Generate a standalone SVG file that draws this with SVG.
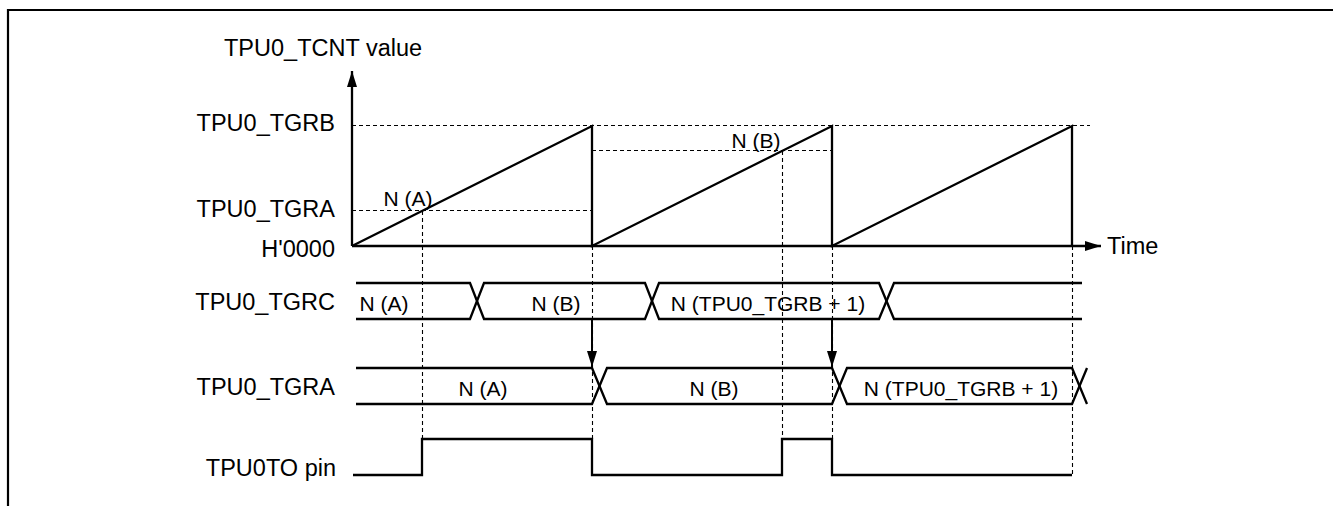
<svg xmlns="http://www.w3.org/2000/svg" width="1333" height="506" viewBox="0 0 1333 506">
<style>
  .frame{fill:none;stroke:#000;stroke-width:2.2}
  .wave{fill:none;stroke:#000;stroke-width:2.3;stroke-linejoin:miter}
  .dash{fill:none;stroke:#000;stroke-width:1.1;stroke-dasharray:4 3}
  .lbl{font-family:"Liberation Sans",Arial,sans-serif;font-size:23.5px;fill:#000}
  .in{font-family:"Liberation Sans",Arial,sans-serif;font-size:21px;fill:#000}
  .end{text-anchor:end}
  .mid{text-anchor:middle}
</style>
<defs>
  <marker id="arrow" viewBox="0 0 16 10" refX="16" refY="5" markerWidth="16" markerHeight="10" markerUnits="userSpaceOnUse" orient="auto">
    <path d="M0,0 L16,5 L0,10 z" fill="#000"/>
  </marker>
</defs>
<rect width="1333" height="506" fill="#fff"/>
<path class="frame" d="M8,506 V10 H1333"/>

<g id="axes">
  <path class="wave" d="M352,246 V71" marker-end="url(#arrow)"/>
  <path class="wave" d="M352,246 H1101" marker-end="url(#arrow)"/>
  <text class="lbl" x="224" y="56">TPU0_TCNT value</text>
  <text class="lbl" x="1107" y="254">Time</text>
</g>

<g id="guides">
  <path class="dash" d="M352,125.5 H1090"/>
  <path class="dash" d="M352,210.5 H592"/>
  <path class="dash" d="M592,150.5 H832"/>
  <path class="dash" d="M422.5,211 V439"/>
  <path class="dash" d="M592.5,246 V439"/>
  <path class="dash" d="M782.5,151 V439"/>
  <path class="dash" d="M832.5,246 V439"/>
  <path class="dash" d="M1072.5,246 V475"/>
</g>

<g id="level-labels">
  <text class="lbl end" x="335" y="131">TPU0_TGRB</text>
  <text class="lbl end" x="335" y="217">TPU0_TGRA</text>
  <text class="lbl end" x="335" y="257">H'0000</text>
</g>

<g id="tcnt">
  <path class="wave" d="M352,246 L592,126 L592,246 L832,126 L832,246 L1072,126 L1072,246"/>
  <text class="in mid" x="408" y="206">N (A)</text>
  <text class="in mid" x="756" y="148">N (B)</text>
</g>

<g id="tgrc">
  <text class="lbl end" x="335" y="310">TPU0_TGRC</text>
  <path class="wave" d="M356,283 H470 L484,319 H645 L659,283 H879 L894,319 H1082"/>
  <path class="wave" d="M356,319 H470 L484,283 H645 L659,319 H879 L894,283 H1082"/>
  <text class="in mid" x="384" y="311">N (A)</text>
  <text class="in mid" x="556" y="311">N (B)</text>
  <text class="in mid" x="768" y="311">N (TPU0_TGRB + 1)</text>
</g>

<g id="tgra">
  <text class="lbl end" x="335" y="395">TPU0_TGRA</text>
  <path class="wave" d="M356,368 H592 L607,404 H832 L847,368 H1072 L1087,404"/>
  <path class="wave" d="M356,404 H592 L607,368 H832 L847,404 H1072 L1087,368"/>
  <text class="in mid" x="483" y="396">N (A)</text>
  <text class="in mid" x="714" y="396">N (B)</text>
  <text class="in mid" x="961" y="396">N (TPU0_TGRB + 1)</text>
</g>

<g id="pin">
  <text class="lbl end" x="336" y="476">TPU0TO pin</text>
  <path class="wave" d="M353,475 H422 V439 H592 V475 H782 V439 H832 V475 H1072"/>
</g>

<g id="connectors">
  <path class="wave" d="M592,319 V367" marker-end="url(#arrow)" style="stroke-width:2"/>
  <path class="wave" d="M832,319 V367" marker-end="url(#arrow)" style="stroke-width:2"/>
</g>
</svg>
